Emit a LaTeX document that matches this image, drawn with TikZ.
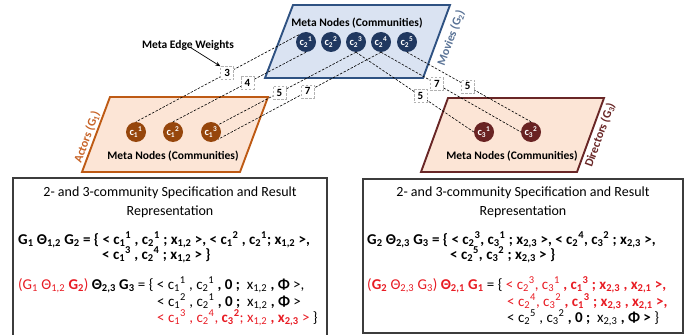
\documentclass[tikz,border=0pt]{standalone}
\usepackage{fontspec}
\setmainfont{Carlito}
\usetikzlibrary{arrows.meta}
\definecolor{mvfill}{RGB}{218,227,242}
\definecolor{mvdraw}{RGB}{47,82,130}
\definecolor{mvnode}{RGB}{32,56,96}
\definecolor{mvtext}{RGB}{90,115,150}
\definecolor{acfill}{RGB}{252,229,214}
\definecolor{acdraw}{RGB}{190,90,20}
\definecolor{acnode}{RGB}{150,70,12}
\definecolor{actext}{RGB}{200,100,40}
\definecolor{drdraw}{RGB}{105,38,38}
\definecolor{drnode}{RGB}{105,35,35}
\definecolor{eqred}{RGB}{232,28,36}
\definecolor{boxgray}{RGB}{60,60,60}
\newcommand\cs[2]{c\textsubscript{#1}\textsuperscript{#2}}
\newcommand\xs[1]{x\textsubscript{#1}}
\newcommand\Gs[1]{G\textsubscript{#1}}
\newcommand\Ths[1]{Θ\textsubscript{#1}}
\tikzset{
 comm/.style={circle, minimum size=20pt, inner sep=0pt, text=white, font=\fontsize{10.5}{10.5}\selectfont\bfseries},
 weight/.style={draw=gray!60, fill=white, line width=0.6pt, minimum width=13pt, minimum height=13pt, inner sep=0pt, font=\fontsize{11}{11}\selectfont\bfseries},
 metaedge/.style={line width=0.6pt, dash pattern=on 2.5pt off 1.5pt},
 plane/.style={line width=1.9pt},
 planelabel/.style={font=\fontsize{12}{12}\selectfont\bfseries, rotate=70, inner sep=0pt},
 metalabel/.style={font=\fontsize{11.5}{11.5}\selectfont\bfseries, inner sep=0pt},
 eqline/.style={anchor=base west, inner sep=0pt, font=\fontsize{15}{17}\selectfont},
 titletext/.style={align=center, inner sep=0pt, font=\fontsize{14}{19}\selectfont},
 panel/.style={draw=boxgray, line width=1.2pt},
}
\begin{document}
\begin{tikzpicture}[x=1pt,y=-1pt]
\useasboundingbox (0,0) rectangle (692,334);
% planes
\draw[plane, draw=mvdraw, fill=mvfill] (293,5) -- (450,5) -- (423,78) -- (265,78) -- cycle;
\draw[plane, draw=acdraw, fill=acfill] (110,97) -- (268,97) -- (240,172) -- (82,172) -- cycle;
\draw[plane, draw=drdraw, fill=acfill] (448,98) -- (604,98) -- (577,172) -- (421,172) -- cycle;
% plane labels
\node[planelabel, text=mvtext] (lblmv) at (451,38) {Movies (G\textsubscript{2})};
\node[planelabel, text=actext] (lblac) at (87,137) {Actors (G\textsubscript{1})};
\node[planelabel, text=drdraw] (lbldr) at (600,135) {Directors (G\textsubscript{3})};
\node[metalabel] (mnmv) at (357,23) {Meta Nodes (Communities)};
\node[metalabel] (mnac) at (173,156) {Meta Nodes (Communities)};
\node[metalabel] (mndr) at (512,156) {Meta Nodes (Communities)};
% community nodes
\node[comm, fill=mvnode] (c21) at (306,42) {\cs{2}{1}};
\node[comm, fill=mvnode] (c22) at (331,42) {\cs{2}{2}};
\node[comm, fill=mvnode] (c23) at (356,42) {\cs{2}{3}};
\node[comm, fill=mvnode] (c24) at (381,42) {\cs{2}{4}};
\node[comm, fill=mvnode] (c25) at (407,42) {\cs{2}{5}};
\node[comm, fill=acnode] (c11) at (136,132) {\cs{1}{1}};
\node[comm, fill=acnode] (c12) at (173,132) {\cs{1}{2}};
\node[comm, fill=acnode] (c13) at (211,132) {\cs{1}{3}};
\node[comm, fill=drnode] (c31) at (484,132) {\cs{3}{1}};
\node[comm, fill=drnode] (c32) at (531,132) {\cs{3}{2}};
% meta edges
\draw[metaedge] (c21.north west) -- node[weight, pos=0.44] (w3) {3} (c11.north);
\draw[metaedge] (c21.south) -- node[weight, pos=0.44] (w4) {4} (c12.north);
\draw[metaedge] (c23.south) -- node[weight, pos=0.555] (w5a) {5} (c13.north east);
\draw[metaedge] (c24.south) -- node[weight, pos=0.45] (w7a) {7} (c13.south east);
\draw[metaedge] (c23.south) -- node[weight, pos=0.546] (w5b) {5} (c31.west);
\draw[metaedge] (c24.south) -- node[weight, pos=0.40] (w7b) {7} (c32.west);
\draw[metaedge] (c25.south) -- node[weight, pos=0.49] (w5c) {5} (c32.north);
% meta edge weights label
\node[metalabel] (mew) at (188,45) {Meta Edge Weights};
\draw[-{Stealth[length=5pt,width=4pt]}, line width=0.7pt] ([xshift=2pt,yshift=3pt]mew.south) -- (w3.north west);
% panels
\draw[panel] (13,336) -- (13,178) -- (327,178) -- (327,336);
\draw[panel] (363,179) rectangle (683,333);
% left panel text
\node[titletext] (tl) at (170,202.5) {2- and 3-community Specification and Result\\Representation};
\node[eqline] (l1) at (18,244) {\bfseries \Gs{1} \Ths{1,2} \Gs{2} = \{ < \cs{1}{1} , \cs{2}{1} ; \xs{1,2} >, < \cs{1}{2} , \cs{2}{1}; \xs{1,2} >,};
\node[eqline] (l2) at (102,259) {\bfseries < \cs{1}{3} , \cs{2}{4} ; \xs{1,2} > \}};
\node[eqline] (l3) at (18,289) {{\color{eqred}(\Gs{1} \Ths{1,2} \textbf{\Gs{2}})} \textbf{\Ths{2,3} \Gs{3}} = \{ < \cs{1}{1} , \cs{2}{1} \textbf{, 0 ;} \ \xs{1,2} \textbf{, Φ} >,};
\node[eqline] (l4) at (157,306) {< \cs{1}{2} , \cs{2}{1} \textbf{, 0 ;} \ \xs{1,2} \textbf{, Φ} >};
\node[eqline] (l5) at (157,322) {{\color{eqred}< \cs{1}{3} , \cs{2}{4}, \textbf{\cs{3}{2}}; \xs{1,2} \textbf{, \xs{2,3}} >} \}};
% right panel text
\node[titletext] (tr) at (523,202.5) {2- and 3-community Specification and Result\\Representation};
\node[eqline] (r1) at (367,244) {\bfseries \Gs{2} \Ths{2,3} \Gs{3} = \{ < \cs{2}{3}, \cs{3}{1} ; \xs{2,3} >, < \cs{2}{4}, \cs{3}{2} ; \xs{2,3} >,};
\node[eqline] (r2) at (450,259) {\bfseries < \cs{2}{5}, \cs{3}{2} ; \xs{2,3} > \}};
\node[eqline] (r3) at (367,289) {{\color{eqred}(\textbf{\Gs{2}} \Ths{2,3} \Gs{3}) \textbf{\Ths{2,1} \Gs{1}}} = \{ {\color{eqred}< \cs{2}{3}, \cs{3}{1} \textbf{, \cs{1}{3} ; \xs{2,3} , \xs{2,1} >,}}};
\node[eqline] (r4) at (507,306) {{\color{eqred}< \cs{2}{4}, \cs{3}{2} \textbf{, \cs{1}{3} ; \xs{2,3} , \xs{2,1} >,}}};
\node[eqline] (r5) at (507,322) {< \cs{2}{5} , \cs{3}{2} \textbf{, 0 ;} \ \xs{2,3} \textbf{, Φ >} \}};
\end{tikzpicture}
\end{document}
